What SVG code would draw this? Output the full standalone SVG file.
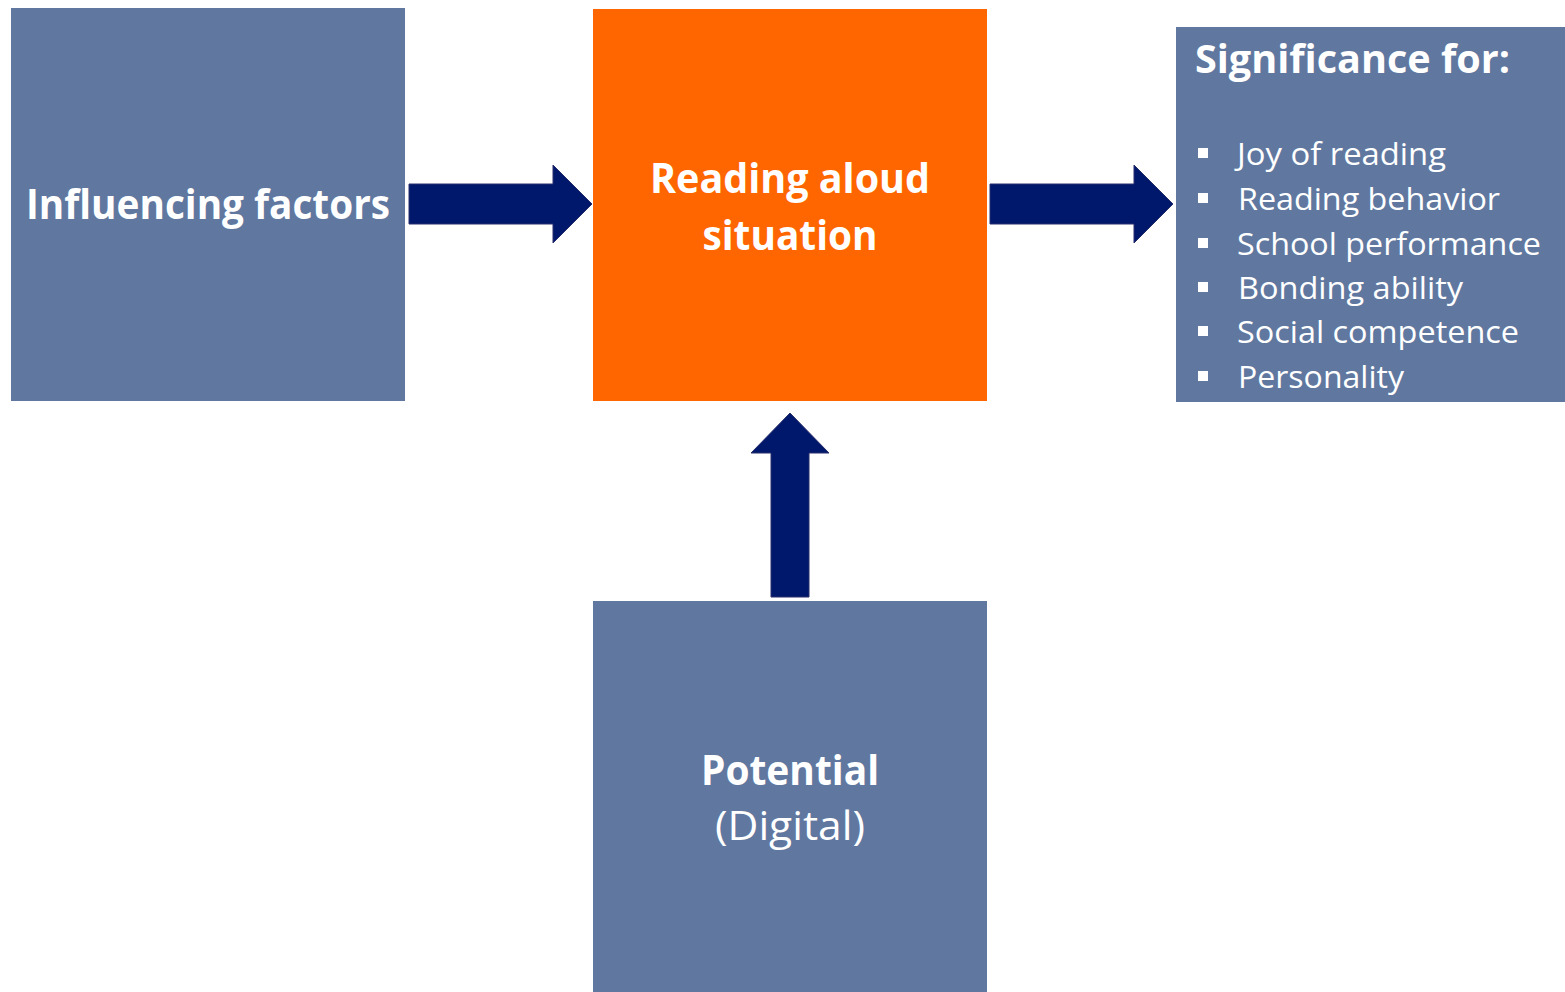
<svg xmlns="http://www.w3.org/2000/svg" width="1565" height="992" viewBox="0 0 1565 992">
<style>
.box{fill:#6078A0}
.orange{fill:#FF6600}
.arrow{fill:#00186C;stroke:#2a2f6e;stroke-width:1}
text{font-family:"Open Sans","Liberation Sans",sans-serif;fill:#FFFFFF}
.b{font-weight:bold}
.item{font-size:31px}
.bullet{fill:#FFFFFF}
</style>
<rect width="1565" height="992" fill="#FFFFFF"/>
<g id="influencing">
<rect class="box" x="11" y="8" width="394" height="393"/>
<text class="b" x="208" y="219" font-size="41" text-anchor="middle" textLength="364" lengthAdjust="spacingAndGlyphs">Influencing factors</text>
</g>
<g id="reading">
<rect class="orange" x="593" y="9" width="394" height="392"/>
<text class="b" x="790" y="193" font-size="41" text-anchor="middle" textLength="280" lengthAdjust="spacingAndGlyphs">Reading aloud</text>
<text class="b" x="790" y="250" font-size="41" text-anchor="middle" textLength="175" lengthAdjust="spacingAndGlyphs">situation</text>
</g>
<g id="significance">
<rect class="box" x="1176" y="27" width="389" height="375"/>
<text class="b" x="1195" y="73" font-size="39" textLength="315" lengthAdjust="spacingAndGlyphs">Significance for:</text>
<rect class="bullet" x="1198" y="148" width="10" height="10"/>
<text class="item" x="1237" y="165" textLength="209" lengthAdjust="spacingAndGlyphs">Joy of reading</text>
<rect class="bullet" x="1198" y="193" width="10" height="10"/>
<text class="item" x="1238" y="210" textLength="262" lengthAdjust="spacingAndGlyphs">Reading behavior</text>
<rect class="bullet" x="1198" y="238" width="10" height="10"/>
<text class="item" x="1237" y="255" textLength="304" lengthAdjust="spacingAndGlyphs">School performance</text>
<rect class="bullet" x="1198" y="282" width="10" height="10"/>
<text class="item" x="1238" y="299" textLength="225" lengthAdjust="spacingAndGlyphs">Bonding ability</text>
<rect class="bullet" x="1198" y="326" width="10" height="10"/>
<text class="item" x="1237" y="343" textLength="282" lengthAdjust="spacingAndGlyphs">Social competence</text>
<rect class="bullet" x="1198" y="371" width="10" height="10"/>
<text class="item" x="1238" y="388" textLength="166" lengthAdjust="spacingAndGlyphs">Personality</text>
</g>
<g id="potential">
<rect class="box" x="593" y="601" width="394" height="391"/>
<text class="b" x="790" y="785" font-size="41" text-anchor="middle" textLength="178" lengthAdjust="spacingAndGlyphs">Potential</text>
<text x="790" y="840" font-size="41" text-anchor="middle" textLength="150" lengthAdjust="spacingAndGlyphs">(Digital)</text>
</g>
<g id="connectors">
<polygon class="arrow" points="409,184 553,184 553,165 592,204 553,243 553,224 409,224"/>
<polygon class="arrow" points="990,184 1134,184 1134,165 1173,204 1134,243 1134,224 990,224"/>
<polygon class="arrow" points="771,597 771,453 751,453 790,413 829,453 809,453 809,597"/>
</g>
</svg>
